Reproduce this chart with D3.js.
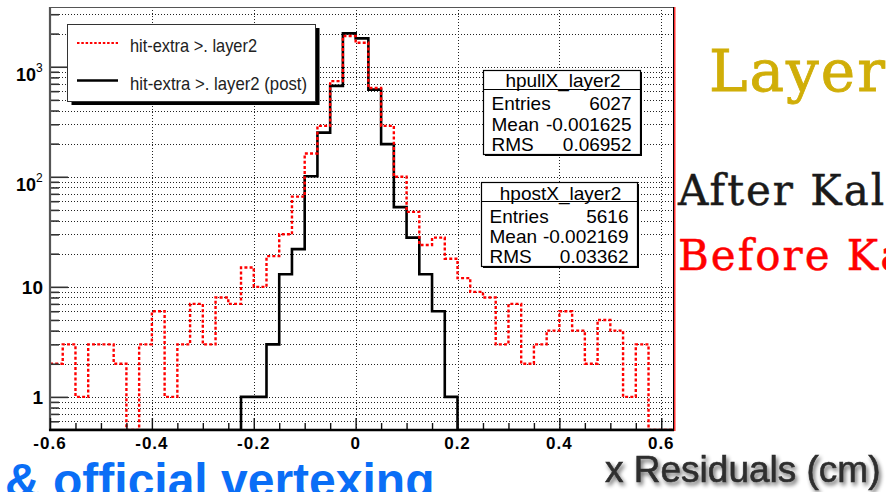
<!DOCTYPE html>
<html>
<head>
<meta charset="utf-8">
<script src="https://cdn.jsdelivr.net/npm/d3@7"></script>
<style>
  html, body { margin: 0; padding: 0; background: #fff; }
  svg { display: block; }
</style>
</head>
<body>
<svg id="chart" width="886" height="492"></svg>
<script>
// Histogram binning (x residual, cm)
const xMin = -0.6;
const xMax = 0.625;
const binWidth = 0.025;

// hpullX_layer2: hit-extra -> layer2 (before Kalman), counts per bin
const pullCounts = [
  2, 3, 1, 3, 3, 2, 0, 3, 6, 1,
  3, 7, 3, 8, 7, 15, 10, 19, 30, 66,
  163, 290, 740, 1900, 1650, 640, 290, 100, 48, 24,
  28, 18, 12, 9, 8, 3, 7, 2, 3, 4,
  6, 4, 2, 5, 4, 1, 3, 0, 0
];

// hpostX_layer2: hit-extra -> layer2 (post, after Kalman), counts per bin
const postCounts = [
  0, 0, 0, 0, 0, 0, 0, 0, 0, 0,
  0, 0, 0, 0, 0, 1, 1, 3, 13, 22,
  101, 252, 670, 2010, 1810, 620, 198, 53, 28, 13,
  6, 1, 0, 0, 0, 0, 0, 0, 0, 0,
  0, 0, 0, 0, 0, 0, 0, 0, 0
];

// Axis ticks
const xMajorTicks = [-0.6, -0.4, -0.2, 0, 0.2, 0.4, 0.6];
const xTickLabels = ["-0.6", "-0.4", "-0.2", "0", "0.2", "0.4", "0.6"];
const xMinorTicks = [-0.55, -0.5, -0.45, -0.35, -0.3, -0.25, -0.15, -0.1, -0.05,
                     0.05, 0.1, 0.15, 0.25, 0.3, 0.35, 0.45, 0.5, 0.55];
const yMajorTicks = [1, 10, 100, 1000];
const yMinorTicks = [0.6, 0.7, 0.8, 0.9, 2, 3, 4, 5, 6, 7, 8, 9,
                     20, 30, 40, 50, 60, 70, 80, 90,
                     200, 300, 400, 500, 600, 700, 800, 900, 2000, 3000];
const yMin = 0.5, yMax = 3490;

// Legend and statistics boxes
const legendLabels = ["hit-extra >. layer2", "hit-extra >. layer2 (post)"];
const statsPull = { title: "hpullX_layer2", rows: [["Entries", "6027"], ["Mean", "-0.001625"], ["RMS", "0.06952"]] };
const statsPost = { title: "hpostX_layer2", rows: [["Entries", "5616"], ["Mean", "-0.002169"], ["RMS", "0.03362"]] };

const svg = d3.select("#chart");
svg.append("rect").attr("width", 886).attr("height", 492).attr("fill", "#fff");

const defs = svg.append("defs");
const plot = { left: 50, right: 674, top: 7, bottom: 430 };
defs.append("clipPath").attr("id", "frameClip")
  .append("rect")
  .attr("x", plot.left).attr("y", plot.top)
  .attr("width", plot.right - plot.left).attr("height", plot.bottom - plot.top);

// Soft drop shadow for the axis title
const shadow = defs.append("filter").attr("id", "txtShadow")
  .attr("x", "-10%").attr("y", "-30%").attr("width", "130%").attr("height", "180%");
shadow.append("feGaussianBlur").attr("in", "SourceAlpha").attr("stdDeviation", 2.2).attr("result", "b");
shadow.append("feOffset").attr("in", "b").attr("dx", 2).attr("dy", 3).attr("result", "o");
shadow.append("feComponentTransfer").attr("in", "o").attr("result", "s")
  .append("feFuncA").attr("type", "linear").attr("slope", 0.6);
shadow.append("feGaussianBlur").attr("in", "SourceGraphic").attr("stdDeviation", 0.5).attr("result", "t");
const merge = shadow.append("feMerge");
merge.append("feMergeNode").attr("in", "s");
merge.append("feMergeNode").attr("in", "t");

const x = d3.scaleLinear().domain([xMin, xMax]).range([plot.left, plot.right]);
const y = d3.scaleLog().domain([yMin, yMax]).range([plot.bottom, plot.top]);

// Grid: dotted lines at every y tick and at the major x ticks
const grid = svg.append("g").attr("stroke", "#222").attr("stroke-width", 1)
  .attr("stroke-dasharray", "1,2");
yMajorTicks.concat(yMinorTicks).forEach(v => {
  const yy = Math.round(y(v)) + 0.5;
  grid.append("line").attr("x1", plot.left).attr("x2", plot.right - 1)
    .attr("y1", yy).attr("y2", yy);
});
xMajorTicks.slice(1).forEach(v => {
  const xx = Math.round(x(v)) + 0.5;
  grid.append("line").attr("x1", xx).attr("x2", xx)
    .attr("y1", plot.top).attr("y2", plot.bottom);
});

// Step outline for a histogram, empty bins sit on the lower frame edge
function stepPath(counts) {
  const pts = counts.map((c, i) => [xMin + i * binWidth, Math.max(c, yMin)]);
  pts.push([xMin + counts.length * binWidth, Math.max(counts[counts.length - 1], yMin)]);
  return d3.line().x(d => x(d[0])).y(d => y(d[1])).curve(d3.curveStepAfter)(pts);
}

const hists = svg.append("g").attr("clip-path", "url(#frameClip)");
hists.append("path").attr("d", stepPath(postCounts))
  .attr("fill", "none").attr("stroke", "#000").attr("stroke-width", 2.6);
hists.append("path").attr("d", stepPath(pullCounts))
  .attr("fill", "none").attr("stroke", "#ff0000").attr("stroke-width", 2.4)
  .attr("stroke-dasharray", "3,2.2");

// Frame
svg.append("line").attr("x1", plot.left).attr("x2", plot.right).attr("y1", plot.top + 0.5).attr("y2", plot.top + 0.5)
  .attr("stroke", "#555").attr("stroke-width", 1);
svg.append("line").attr("x1", plot.right - 0.5).attr("x2", plot.right - 0.5).attr("y1", plot.top).attr("y2", plot.bottom)
  .attr("stroke", "#000").attr("stroke-width", 1);
svg.append("line").attr("x1", plot.right + 0.8).attr("x2", plot.right + 0.8).attr("y1", plot.top).attr("y2", plot.bottom + 1)
  .attr("stroke", "#ff0000").attr("stroke-width", 1.2);

// Y axis (ticks point into the frame)
const yAxisMajor = d3.axisRight(y).tickValues(yMajorTicks).tickSize(18).tickFormat("");
const yAxisMinor = d3.axisRight(y).tickValues(yMinorTicks).tickSize(9).tickFormat("");
[yAxisMajor, yAxisMinor].forEach(ax => {
  const g = svg.append("g").attr("transform", `translate(${plot.left},0)`).call(ax);
  g.selectAll(".tick line").attr("stroke", "#333").attr("stroke-width", 1.6);
  g.select(".domain").remove();
});
svg.append("line").attr("x1", plot.left).attr("x2", plot.left).attr("y1", plot.top).attr("y2", plot.bottom + 1)
  .attr("stroke", "#555").attr("stroke-width", 2.2);

// X axis (ticks point up into the frame)
const xAxisMajor = d3.axisTop(x).tickValues(xMajorTicks).tickSize(12).tickFormat("");
const xAxisMinor = d3.axisTop(x).tickValues(xMinorTicks).tickSize(7).tickFormat("");
[xAxisMajor, xAxisMinor].forEach(ax => {
  const g = svg.append("g").attr("transform", `translate(0,${plot.bottom})`).call(ax);
  g.selectAll(".tick line").attr("stroke", "#111").attr("stroke-width", 1.4);
  g.select(".domain").remove();
});
svg.append("line").attr("x1", plot.left - 1).attr("x2", plot.right).attr("y1", plot.bottom).attr("y2", plot.bottom)
  .attr("stroke", "#000").attr("stroke-width", 2.4);

// X tick labels
svg.append("g").selectAll("text").data(xMajorTicks).join("text")
  .attr("x", d => x(d)).attr("y", 449)
  .attr("text-anchor", "middle")
  .attr("font-family", "Liberation Sans, Arial, sans-serif")
  .attr("font-weight", "bold").attr("font-size", 17).attr("letter-spacing", 1)
  .attr("fill", "#000")
  .text((d, i) => xTickLabels[i]);

// Y tick labels (powers of ten)
const yLab = svg.append("g").attr("font-family", "Liberation Sans, Arial, sans-serif").attr("fill", "#000");
yMajorTicks.forEach(v => {
  const exp = Math.round(Math.log10(v));
  const yy = y(v);
  if (exp <= 1) {
    yLab.append("text").attr("x", 43).attr("y", yy + 7)
      .attr("text-anchor", "end").attr("font-weight", "bold").attr("font-size", 19)
      .text(String(v));
  } else {
    yLab.append("text").attr("x", 36).attr("y", yy + 14)
      .attr("text-anchor", "end").attr("font-weight", "bold").attr("font-size", 18)
      .text("10");
    yLab.append("text").attr("x", 36).attr("y", yy + 5.5)
      .attr("text-anchor", "start").attr("font-size", 12)
      .text(String(exp));
  }
});

// Legend
const leg = svg.append("g");
leg.append("rect").attr("x", 71.5).attr("y", 28).attr("width", 248).attr("height", 77).attr("fill", "#000");
leg.append("rect").attr("x", 67.5).attr("y", 24.5).attr("width", 248).attr("height", 77)
  .attr("fill", "#fff").attr("stroke", "#333").attr("stroke-width", 1);
leg.append("line").attr("x1", 77).attr("x2", 118).attr("y1", 43).attr("y2", 43)
  .attr("stroke", "#ff0000").attr("stroke-width", 2.2).attr("stroke-dasharray", "2.5,1.8");
leg.append("line").attr("x1", 77).attr("x2", 118).attr("y1", 80.5).attr("y2", 80.5)
  .attr("stroke", "#000").attr("stroke-width", 2.6);
[[legendLabels[0], 51.5, 127], [legendLabels[1], 89.5, 177]].forEach(([t, yy, w]) => {
  leg.append("text").attr("x", 130).attr("y", yy)
    .attr("font-family", "Liberation Sans, Arial, sans-serif").attr("font-size", 18.5)
    .attr("fill", "#222").attr("textLength", w).attr("lengthAdjust", "spacingAndGlyphs")
    .text(t);
});

// Statistics boxes
function statsBox(s, bx, by, bw, bh, sepY, rowYs, titleY) {
  const g = svg.append("g").attr("font-family", "Liberation Sans, Arial, sans-serif").attr("fill", "#000");
  g.append("rect").attr("x", bx + 1.5).attr("y", by + 1.5).attr("width", bw).attr("height", bh).attr("fill", "#000");
  g.append("rect").attr("x", bx).attr("y", by).attr("width", bw).attr("height", bh)
    .attr("fill", "#fff").attr("stroke", "#000").attr("stroke-width", 1.2);
  g.append("line").attr("x1", bx).attr("x2", bx + bw).attr("y1", sepY).attr("y2", sepY)
    .attr("stroke", "#000").attr("stroke-width", 1.2);
  g.append("text").attr("x", bx + bw / 2 + 1).attr("y", titleY).attr("text-anchor", "middle")
    .attr("font-size", 19).text(s.title);
  s.rows.forEach((r, i) => {
    g.append("text").attr("x", bx + 8).attr("y", rowYs[i]).attr("font-size", 19).text(r[0]);
    g.append("text").attr("x", bx + bw - 9).attr("y", rowYs[i]).attr("text-anchor", "end")
      .attr("font-size", 19).text(r[1]);
  });
}
statsBox(statsPull, 483.5, 70.5, 157, 84, 89.5, [110, 130.5, 151], 87);
statsBox(statsPost, 481.5, 182.5, 156, 84, 201.5, [222.5, 242.5, 263], 199.5);

// Slide text around the plot
const serif = "DejaVu Serif, Liberation Serif, serif";
svg.append("text").attr("x", 709).attr("y", 91).attr("font-family", serif)
  .attr("font-size", 58).attr("letter-spacing", 2).attr("fill", "#d0ae08")
  .attr("stroke", "#d0ae08").attr("stroke-width", 0.8).text("Layer 2");
svg.append("text").attr("x", 678).attr("y", 205).attr("font-family", serif)
  .attr("font-size", 42).attr("letter-spacing", 2).attr("fill", "#1a1a1a")
  .attr("stroke", "#1a1a1a").attr("stroke-width", 0.5).text("After Kalman");
svg.append("text").attr("x", 678).attr("y", 270).attr("font-family", serif)
  .attr("font-size", 42).attr("letter-spacing", 2).attr("fill", "#ff0000")
  .attr("stroke", "#ff0000").attr("stroke-width", 0.5).text("Before Kalman");

svg.append("text").attr("x", 5).attr("y", 497)
  .attr("font-family", "Liberation Sans, Arial, sans-serif").attr("font-weight", "bold")
  .attr("font-size", 48).attr("fill", "#0a6ef6").text("& official vertexing");

svg.append("text").attr("x", 605).attr("y", 482)
  .attr("font-family", "Liberation Sans, Arial, sans-serif")
  .attr("font-size", 37).attr("fill", "#2e2e2e").attr("stroke", "#2e2e2e").attr("stroke-width", 0.6)
  .attr("filter", "url(#txtShadow)")
  .text("x Residuals (cm)");
</script>
</body>
</html>
